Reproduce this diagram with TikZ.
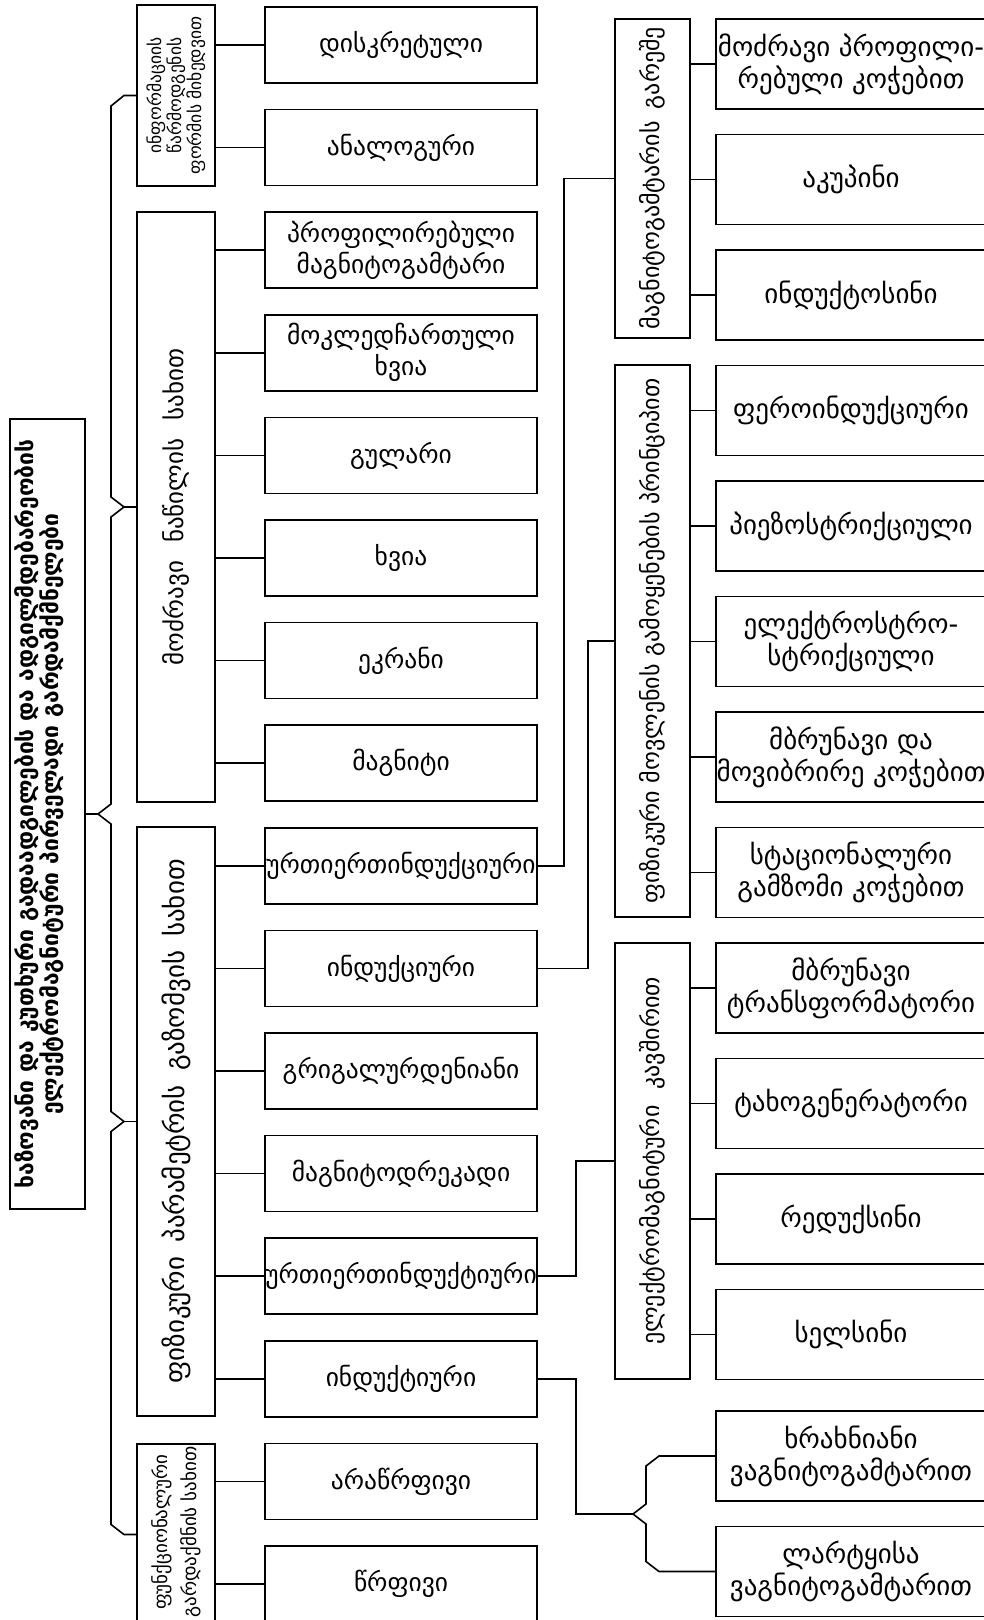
\documentclass[tikz,border=0pt]{standalone}
\usepackage{fontspec}
\setmainfont{DejaVu Sans}
\begin{document}
\begin{tikzpicture}[x=1pt,y=-1pt,line width=1.6pt,
  frame/.style={draw,line width=1.6pt,inner sep=0pt},
  cbox/.style={frame,minimum width=272pt,minimum height=76pt,align=center,font=\fontsize{25.5}{31}\selectfont},
  dbox/.style={frame,minimum width=270pt,minimum height=90pt,align=center,font=\fontsize{27}{32}\selectfont},
  vtext/.style={rotate=90,align=center,inner sep=0pt},
  wire/.style={draw,line width=1.6pt}]
\useasboundingbox (0,0) rectangle (984,1620);
% title
\node[frame,minimum width=75pt,minimum height=790pt] (title) at (47.5,814) {};
\node[vtext,font=\bfseries\fontsize{22.8}{24}\selectfont] (titlet) at (39,814) {ხაზოვანი და კუთხური გადაადგილების და ადგილმდებარეობის\\ელექტრომაგნიტური პირველადი გარდამქმნელები};
% column 1
\node[frame,minimum width=78pt,minimum height=181pt] (c1a) at (176,95.5) {};
\node[vtext,font=\fontsize{17.5}{20}\selectfont] (c1at) at (c1a) {ინფორმაციის\\წარმოდგენის\\ფორმის მიხედვით};
\node[frame,minimum width=78pt,minimum height=590pt] (c1b) at (176,507) {};
\node[vtext,font=\fontsize{25}{31}\selectfont] (c1bt) at (c1b) {მოძრავი\hspace{18pt}ნაწილის\hspace{18pt}სახით};
\node[frame,minimum width=78pt,minimum height=589pt] (c1c) at (176,1121.5) {};
\node[vtext,font=\fontsize{27}{31}\selectfont] (c1ct) at (c1c) {ფიზიკური\hspace{14pt}პარამეტრის\hspace{14pt}გაზომვის\hspace{14pt}სახით};
\node[frame,minimum width=78pt,minimum height=181pt] (c1d) at (176,1534.5) {};
\node[vtext,font=\fontsize{19}{29}\selectfont] (c1dt) at (176,1532) {ფუნქციონალური\\გარდაქმნის სახით};
% column 2
\node[cbox] (r1) at (401,45) {დისკრეტული};
\node[cbox] (r2) at (401,147.6) {ანალოგური};
\node[cbox] (r3) at (401,250.2) {პროფილირებული\\მაგნიტოგამტარი};
\node[cbox] (r4) at (401,352.8) {მოკლედჩართული\\ხვია};
\node[cbox] (r5) at (401,455.4) {გულარი};
\node[cbox] (r6) at (401,558) {ხვია};
\node[cbox] (r7) at (401,660.6) {ეკრანი};
\node[cbox] (r8) at (401,763.2) {მაგნიტი};
\node[cbox] (r9) at (401,865.8) {ურთიერთინდუქციური};
\node[cbox] (r10) at (401,968.4) {ინდუქციური};
\node[cbox] (r11) at (401,1071) {გრიგალურდენიანი};
\node[cbox] (r12) at (401,1173.6) {მაგნიტოდრეკადი};
\node[cbox] (r13) at (401,1276.2) {ურთიერთინდუქტიური};
\node[cbox] (r14) at (401,1378.8) {ინდუქტიური};
\node[cbox] (r15) at (401,1481.4) {არაწრფივი};
\node[cbox] (r16) at (401,1584) {წრფივი};
% column 3
\node[frame,minimum width=75pt,minimum height=319pt] (c3a) at (652.5,178.5) {};
\node[vtext,font=\fontsize{24}{28}\selectfont] (c3at) at (c3a) {მაგნიტოგამტარის\hspace{12pt}გარეშე};
\node[frame,minimum width=75pt,minimum height=552pt] (c3b) at (652.5,641) {};
\node[vtext,font=\fontsize{24}{28}\selectfont] (c3bt) at (c3b) {ფიზიკური მოვლენის გამოყენების პრინციპით};
\node[frame,minimum width=75pt,minimum height=436pt] (c3c) at (652.5,1161) {};
\node[vtext,font=\fontsize{24}{28}\selectfont] (c3ct) at (c3c) {ელექტრომაგნიტური\hspace{16pt}კავშირით};
% column 4
\node[dbox] (s1) at (851,64) {მოძრავი პროფილი-\\რებული კოჭებით};
\node[dbox] (s2) at (851,179.5) {აკუპინი};
\node[dbox] (s3) at (851,295) {ინდუქტოსინი};
\node[dbox] (s4) at (851,410.5) {ფეროინდუქციური};
\node[dbox] (s5) at (851,526) {პიეზოსტრიქციული};
\node[dbox] (s6) at (851,641.5) {ელექტროსტრო-\\სტრიქციული};
\node[dbox] (s7) at (851,757) {მბრუნავი და\\მოვიბრირე კოჭებით};
\node[dbox] (s8) at (851,872.5) {სტაციონალური\\გამზომი კოჭებით};
\node[dbox] (s9) at (851,988) {მბრუნავი\\ტრანსფორმატორი};
\node[dbox] (s10) at (851,1103.5) {ტახოგენერატორი};
\node[dbox] (s11) at (851,1219) {რედუქსინი};
\node[dbox] (s12) at (851,1334.5) {სელსინი};
\node[dbox] (s13) at (851,1456) {ხრახნიანი\\ვაგნიტოგამტარით};
\node[dbox] (s14) at (851,1571.5) {ლარტყისა\\ვაგნიტოგამტარით};
% brace from title
\coordinate (tip1) at (98,814);
\coordinate (tip2) at (633,1514);
\path[wire] (title.east) -- (tip1) -- (111,804) -- (111,517) -- (124,507) -- (111,497) -- (111,106) -- (124,95.5) -- (c1a.west);
\path[wire] (tip1) -- (111,824) -- (111,1111.5) -- (124,1121.5) -- (111,1131.5) -- (111,1524.5) -- (124,1534.5) -- (c1d.west);
\path[wire] (124,507) -- (c1b.west);
\path[wire] (124,1121.5) -- (c1c.west);
% column 1 -> column 2
\foreach \r/\c in {r1/c1a,r2/c1a,r3/c1b,r4/c1b,r5/c1b,r6/c1b,r7/c1b,r8/c1b,r9/c1c,r10/c1c,r11/c1c,r12/c1c,r13/c1c,r14/c1c,r15/c1d,r16/c1d}
  \path[wire] (\r.west) -- (\r.west -| \c.east);
% column 2 -> column 3
\path[wire] (r9.east) -- ++(26,0) |- (c3a.west);
\path[wire] (r10.east) -- ++(50,0) |- (c3b.west);
\path[wire] (r13.east) -- ++(38,0) |- (c3c.west);
\path[wire] (r14.east) -- ++(38,0) |- (tip2);
% column 3 -> column 4
\foreach \s/\c in {s1/c3a,s2/c3a,s3/c3a,s4/c3b,s5/c3b,s6/c3b,s7/c3b,s8/c3b,s9/c3c,s10/c3c,s11/c3c,s12/c3c}
  \path[wire] (\s.west) -- (\s.west -| \c.east);
% bottom brace
\path[wire] (tip2) -- (646,1504) -- (646,1466) -- (659,1456) -- (s13.west);
\path[wire] (tip2) -- (646,1524) -- (646,1561.5) -- (659,1571.5) -- (s14.west);
\end{tikzpicture}
\end{document}
